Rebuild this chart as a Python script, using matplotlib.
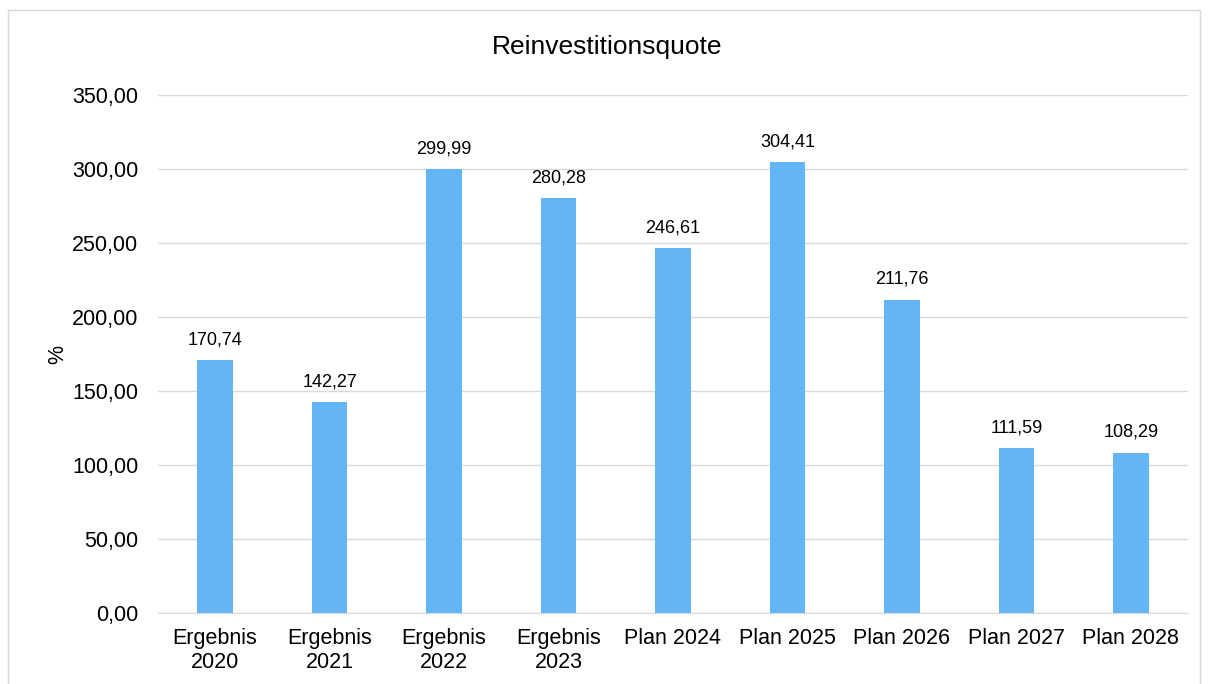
import matplotlib
matplotlib.use('Agg')
import matplotlib.pyplot as plt
from matplotlib.patches import Rectangle

plt.rcParams['font.family'] = ['Liberation Sans', 'DejaVu Sans']

categories = ['Ergebnis\n2020', 'Ergebnis\n2021', 'Ergebnis\n2022', 'Ergebnis\n2023',
              'Plan 2024', 'Plan 2025', 'Plan 2026', 'Plan 2027', 'Plan 2028']
values = [170.74, 142.27, 299.99, 280.28, 246.61, 304.41, 211.76, 111.59, 108.29]
yticks = [0, 50, 100, 150, 200, 250, 300, 350]


def de_fmt(v):
    return f'{v:.2f}'.replace('.', ',')


fig = plt.figure(figsize=(12.14, 6.84), dpi=100)
ax = fig.add_axes([0.130, 0.1038, 0.8486, 0.7573])

x = range(len(categories))
ax.bar(x, values, width=0.31, color='#64B5F6', zorder=2)
for i, v in zip(x, values):
    ax.text(i, v + 8, de_fmt(v), ha='center', va='bottom', fontsize=13)

ax.set_xlim(-0.5, len(categories) - 0.5)
ax.set_ylim(0, 350)
ax.set_yticks(yticks)
ax.set_yticklabels([de_fmt(t) for t in yticks], fontsize=15.5)
ax.set_xticks(list(x))
ax.set_xticklabels(categories, fontsize=15.5, linespacing=1.2)
ax.tick_params(axis='y', length=0, pad=14)
ax.tick_params(axis='x', length=0, pad=11)
ax.grid(axis='y', color='#D9D9D9', linewidth=1, zorder=0)
for s in ['top', 'right', 'left']:
    ax.spines[s].set_visible(False)
ax.spines['bottom'].set_color('#D9D9D9')
ax.set_ylabel('%', fontsize=15.5, labelpad=3)
fig.text(0.5, 0.932, 'Reinvestitionsquote', ha='center', va='center', fontsize=19)

fig.patches.append(Rectangle((8 / 1214, -0.01), 1192 / 1214, 1 - 10 / 684 + 0.01,
                             transform=fig.transFigure, fill=False,
                             edgecolor='#D9D9D9', linewidth=1))

fig.savefig('out.png', dpi=100)
